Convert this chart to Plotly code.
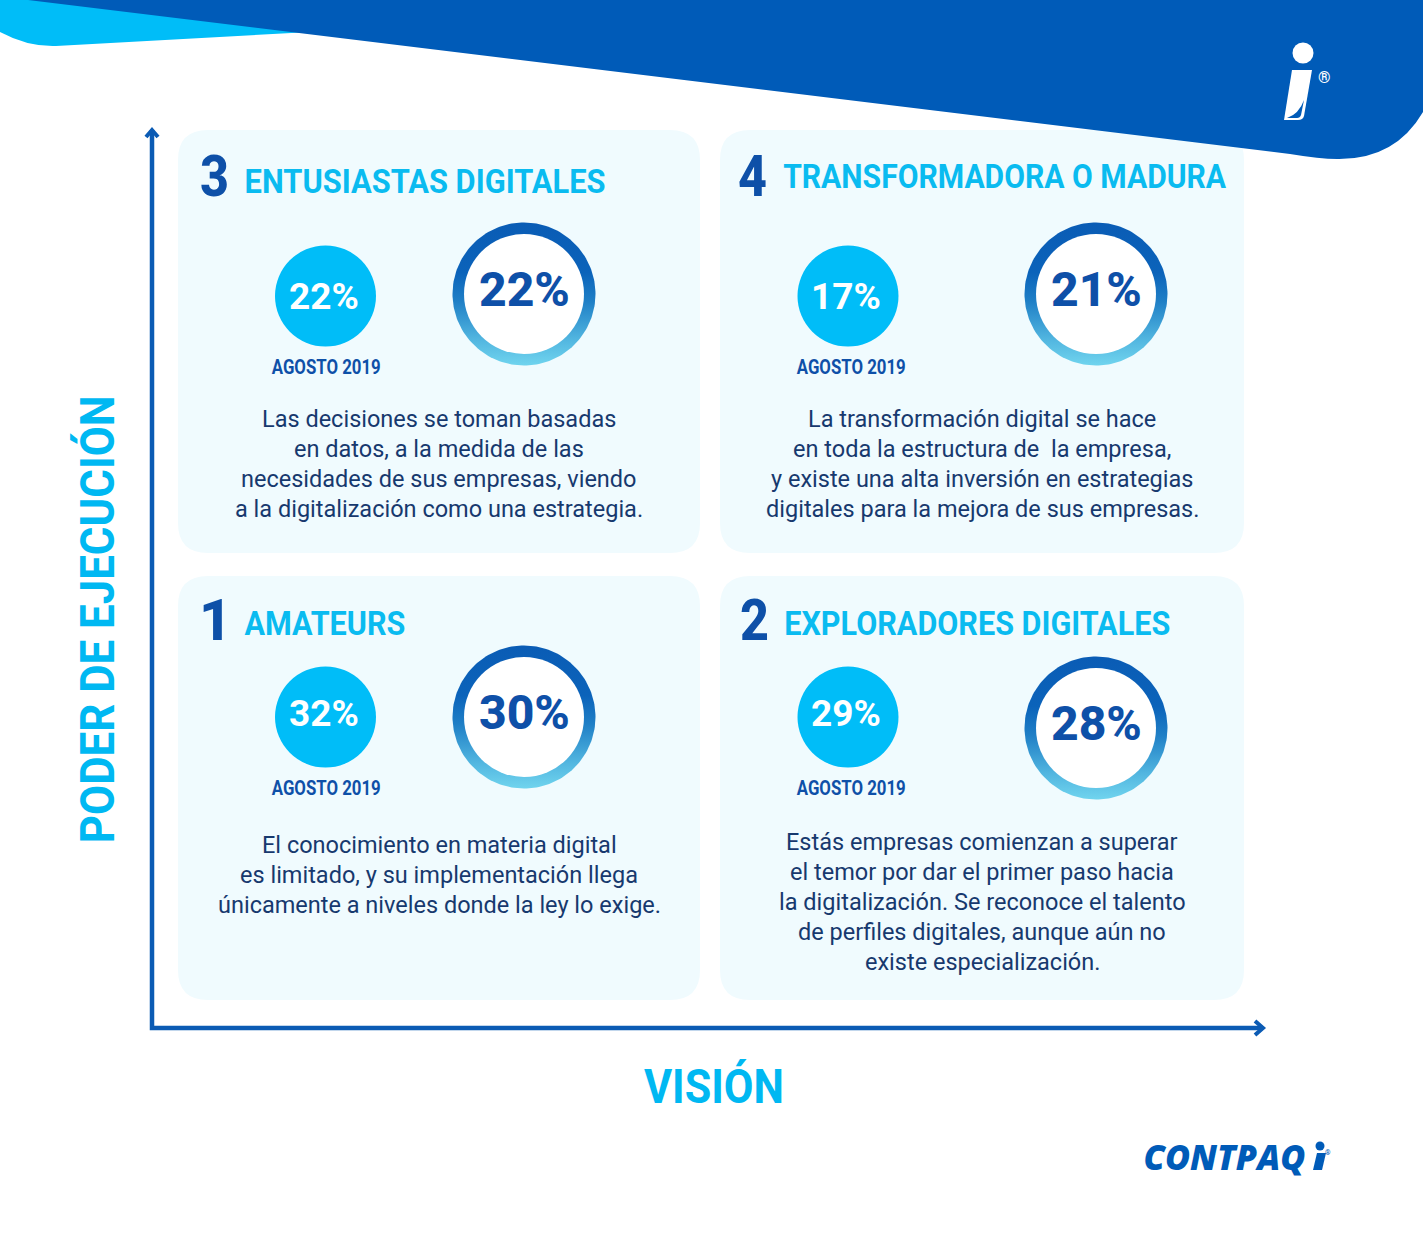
import json
import numpy as np
import plotly.graph_objects as go

# ---- content ----
quadrants = ["3", "4", "1", "2"]
titles = ["ENTUSIASTAS DIGITALES", "TRANSFORMADORA O MADURA", "AMATEURS", "EXPLORADORES DIGITALES"]
august_values = [22, 17, 32, 29]
current_values = [22, 21, 30, 28]
august_label = "AGOSTO 2019"
descriptions = [
    ["Las decisiones se toman basadas", "en datos, a la medida de las",
     "necesidades de sus empresas, viendo", "a la digitalización como una estrategia."],
    ["La transformación digital se hace", "en toda la estructura de  la empresa,",
     "y existe una alta inversión en estrategias", "digitales para la mejora de sus empresas."],
    ["El conocimiento en materia digital", "es limitado, y su implementación llega",
     "únicamente a niveles donde la ley lo exige."],
    ["Estás empresas comienzan a superar", "el temor por dar el primer paso hacia",
     "la digitalización. Se reconoce el talento", "de perfiles digitales, aunque aún no",
     "existe especialización."],
]
y_title = "PODER DE EJECUCIÓN"
x_title = "VISIÓN"
brand = "CONTPAQ"

# ---- layout geometry ----
W, H = 1423, 1241
card_x = [(178, 700), (720, 1244), (178, 700), (720, 1244)]
card_y = [(130, 553), (130, 553), (576, 1000), (576, 1000)]
num_xy = [(214, 176), (752, 176), (215, 620), (754, 620)]
title_left = [244, 783, 244, 784]
title_width = [361, 443, 161, 386]
title_y = [181, 176, 623, 623]
disc_xy = [(325.5, 296), (848, 296), (325.5, 717), (848, 717)]
disc_text_y = [296, 296, 713, 713]
month_xy = [(326, 367), (851, 367), (326, 788), (851, 788)]
ring_xy = [(524, 294), (1096, 294), (524, 717), (1096, 728)]
ring_text_y = [289, 289, 712, 723]
body_x = [439, 982, 439, 982]
body_y0 = [419, 419, 845, 842]
LINE_STEP = 30
DISC_R, RING_R, RING_IN = 50.5, 71.5, 60

# condensed display lettering: rendered width of these strings, in pixels
text_widths = {titles[i]: title_width[i] for i in range(4)}
text_widths[august_label] = 109
text_widths[y_title] = 448
text_widths[x_title] = 140
text_widths[brand] = 162
text_widths["3"] = 29
text_widths["4"] = 29
text_widths["2"] = 29

# ---- styles ----
DARK = "#005BB8"
NAVY = "#0E50A8"
CYAN = "#00BDF8"
CARD = "#F0FBFE"
BODY = "#17396E"
TITLE_FONT = "Roboto"
BODY_FONT = "Roboto"
NUM_FONT = "Roboto"

fig = go.Figure()
shapes, notes = [], []


def note(x, y, text, size, color, family=TITLE_FONT, weight=700, angle=0, anchor="center", style="normal"):
    notes.append(dict(x=x, y=y, xref="x", yref="y", text=text, showarrow=False, xanchor=anchor,
                      yanchor="middle", textangle=angle,
                      font=dict(size=size, color=color, family=family, weight=weight, style=style)))


def rounded(x0, x1, y0, y1, r):
    return (f"M{x0+r},{y0} L{x1-r},{y0} Q{x1},{y0} {x1},{y0+r} L{x1},{y1-r} Q{x1},{y1} {x1-r},{y1} "
            f"L{x0+r},{y1} Q{x0},{y1} {x0},{y1-r} L{x0},{y0+r} Q{x0},{y0} {x0+r},{y0} Z")


def circle(cx, cy, r, color, layer="above"):
    shapes.append(dict(type="circle", x0=cx-r, x1=cx+r, y0=cy-r, y1=cy+r, xref="x", yref="y",
                       fillcolor=color, line_width=0, layer=layer))


# axes
axis = "#0B5BB4"
shapes.append(dict(type="path", layer="below", line=dict(color=axis, width=4.5),
                   path="M152,130 L152,1028 L1263,1028"))
shapes.append(dict(type="path", layer="below", line=dict(color=axis, width=4),
                   path="M146,137 L152,130 L158,137"))
shapes.append(dict(type="path", layer="below", line=dict(color=axis, width=4),
                   path="M1255,1021 L1263,1028 L1255,1035"))
note(97, 619, y_title, 49, "#00B8F2", angle=-90)
note(714, 1086, x_title, 48, "#00B8F2")

# cards
for i in range(4):
    (x0, x1), (y0, y1) = card_x[i], card_y[i]
    shapes.append(dict(type="path", layer="below", line_width=0, fillcolor=CARD,
                       path=rounded(x0, x1, y0, y1, 30)))
    note(*num_xy[i], quadrants[i], 57, NAVY, family=NUM_FONT, weight=800)
    note(title_left[i] + title_width[i] / 2, title_y[i], titles[i], 33, "#0ABBF0")

    # August disc
    circle(*disc_xy[i], DISC_R, CYAN, layer="above")
    note(disc_xy[i][0] - 2, disc_text_y[i], f"{august_values[i]}%", 37, "white", family=NUM_FONT, weight=700)
    note(*month_xy[i], august_label, 19.5, NAVY, weight=700)

    # Current ring: disc with vertical gradient under a white disc
    theta = np.linspace(0, 2 * np.pi, 181)
    cx, cy = ring_xy[i]
    fig.add_trace(go.Scatter(
        x=cx + RING_R * np.cos(theta), y=cy + RING_R * np.sin(theta),
        mode="lines", line=dict(width=0), fill="toself", hoverinfo="skip", showlegend=False,
        fillgradient=dict(type="vertical",
                          colorscale=[[0, "#70D4EE"], [0.18, "#52B6E0"], [0.45, "#1F7FC6"],
                                      [0.65, "#0B63BA"], [1, "#0A5CB5"]])))
    circle(cx, cy, RING_IN, "white", layer="above")
    note(cx, ring_text_y[i], f"{current_values[i]}%", 48, NAVY, family=NUM_FONT, weight=800)

    # Description
    for j, line in enumerate(descriptions[i]):
        note(body_x[i], body_y0[i] + j * LINE_STEP, line, 23.5, BODY, family=BODY_FONT, weight=400)

# header swooshes (drawn after the cards: they overlap card 4's corner)
shapes.append(dict(type="path", layer="below", line_width=0, fillcolor=CYAN,
                   path="M0,0 L0,32 Q28,47 56,46 L310,32 L60,0 Z"))
shapes.append(dict(type="path", layer="below", line_width=0, fillcolor=DARK,
                   path="M28,0 L1423,0 L1423,112 Q1395,160 1337,159 Q1320,159 1290,154 Z"))

# logo "i" in the header
circle(1303, 53, 10.5, "white")
shapes.append(dict(type="path", layer="above", line_width=0, fillcolor="white",
                   path="M1292,70 L1312,70 L1304,116 Q1303,120 1298,120 L1284,120 Z"))
shapes.append(dict(type="path", layer="above", line_width=0, fillcolor=DARK,
                   path="M1304,100 L1301,115 Q1300,118 1297,118 L1287,118 Q1299,114 1304,100 Z"))
note(1324, 77, "®", 16, "white", family="Roboto")

# brand mark
note(1224, 1156, brand, 36, DARK, family="Open Sans", weight=800, style="italic")
circle(1320, 1146, 4.5, DARK)
shapes.append(dict(type="path", layer="above", line_width=0, fillcolor=DARK,
                   path="M1317,1153 L1326,1153 L1322,1170 L1313,1170 Z"))
note(1328, 1153, "®", 7, DARK, family="Roboto")

fig.update_layout(
    width=W, height=H, margin=dict(l=0, r=0, t=0, b=0), showlegend=False,
    paper_bgcolor="white", plot_bgcolor="white", shapes=shapes, annotations=notes,
    xaxis=dict(range=[0, W], visible=False, fixedrange=True),
    yaxis=dict(range=[H, 0], visible=False, fixedrange=True),
)
condense = """
document.body.style.margin='0';
var widths = %s;
document.querySelectorAll('.annotation-text').forEach(function (t) {
  var w = widths[t.textContent];
  if (w) { t.setAttribute('textLength', w); t.setAttribute('lengthAdjust', 'spacingAndGlyphs'); }
});
""" % json.dumps(text_widths, ensure_ascii=False)
fig.write_html("out.html", config=dict(displayModeBar=False), post_script=condense)
